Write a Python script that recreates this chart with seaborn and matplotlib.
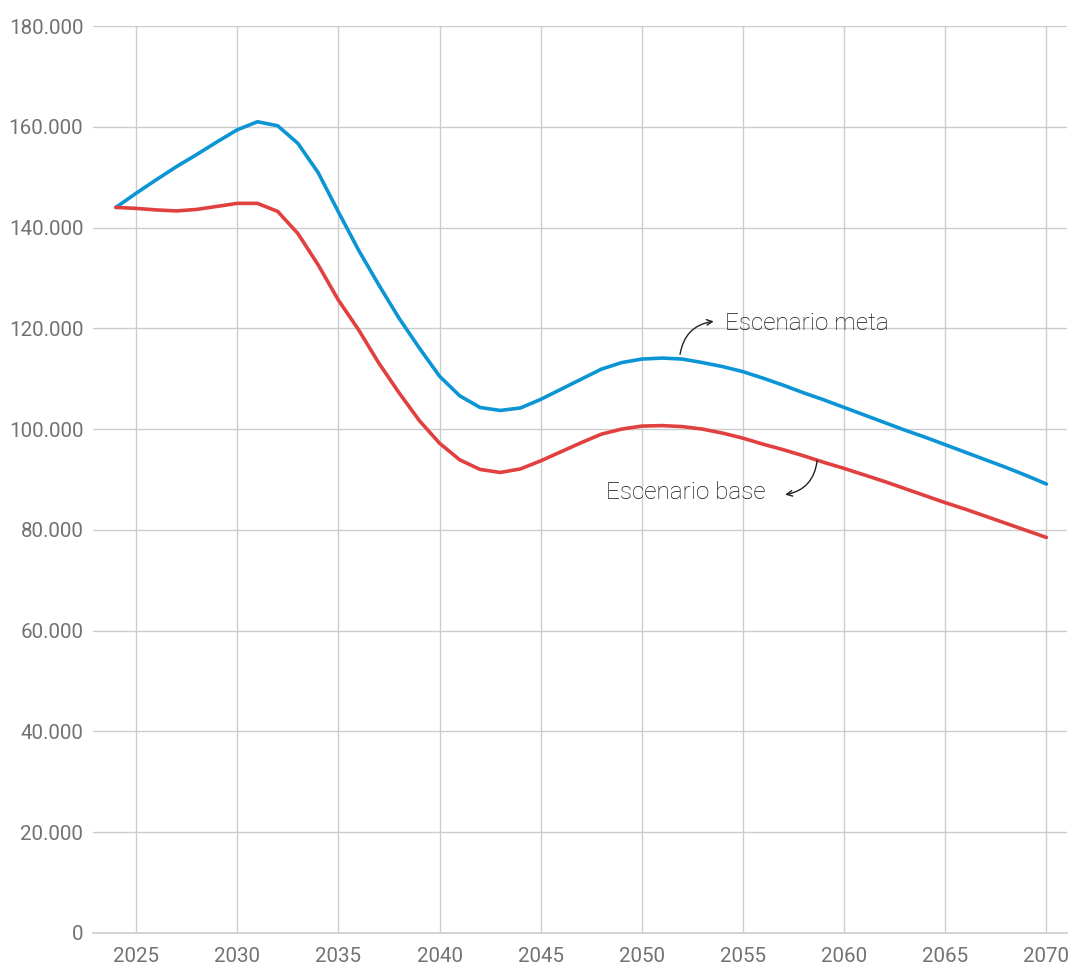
import pandas as pd
import matplotlib
matplotlib.use("Agg")
import matplotlib.pyplot as plt
import matplotlib.ticker as mticker
import seaborn as sns

# data (thousands)
years = list(range(2024, 2071))
meta = [144.0, 146.8, 149.5, 152.1, 154.5, 157.0, 159.4, 161.0, 160.2, 156.7,
        150.9, 143.1, 135.5, 128.6, 122.0, 116.1, 110.5, 106.6, 104.3, 103.7,
        104.2, 105.9, 107.9, 109.9, 111.9, 113.2, 113.9, 114.1, 113.9, 113.2,
        112.4, 111.4, 110.1, 108.7, 107.2, 105.8, 104.3, 102.8, 101.3, 99.8,
        98.4, 96.9, 95.4, 93.9, 92.4, 90.8, 89.1]
base = [144.0, 143.8, 143.5, 143.3, 143.6, 144.2, 144.8, 144.8, 143.2, 138.8,
        132.6, 125.6, 119.7, 113.1, 107.2, 101.7, 97.2, 93.9, 92.0, 91.4,
        92.1, 93.7, 95.5, 97.3, 99.0, 100.0, 100.6, 100.7, 100.5, 100.0,
        99.2, 98.2, 97.0, 95.9, 94.7, 93.4, 92.2, 90.9, 89.6, 88.2,
        86.8, 85.4, 84.1, 82.7, 81.3, 79.9, 78.5]
series_names = ["Escenario meta", "Escenario base"]
colors = {"Escenario meta": "#0b95d4", "Escenario base": "#e0403f"}

df = pd.DataFrame({
    "year": years * 2,
    "value": [v * 1000 for v in meta] + [v * 1000 for v in base],
    "serie": [series_names[0]] * len(years) + [series_names[1]] * len(years),
})

sns.set_style("white")
plt.rcParams["font.family"] = ["Roboto", "DejaVu Sans"]
plt.rcParams["font.weight"] = "light"

fig, ax = plt.subplots(figsize=(10.68, 9.67), dpi=100)
fig.subplots_adjust(left=93 / 1068, right=0.9995, top=1 - 26 / 967, bottom=1 - 933 / 967)

sns.lineplot(data=df, x="year", y="value", hue="serie", palette=colors,
             linewidth=2.6, legend=False, ax=ax)

ax.set_xlim(2022.87, 2071.04)
ax.set_ylim(0, 180000)
ax.yaxis.set_major_locator(mticker.MultipleLocator(20000))
ax.yaxis.set_major_formatter(mticker.FuncFormatter(lambda v, p: f"{v:,.0f}".replace(",", ".")))
ax.xaxis.set_major_locator(mticker.MultipleLocator(5))
ax.xaxis.set_minor_locator(mticker.MultipleLocator(1))
ax.set_xlabel("")
ax.set_ylabel("")

ax.grid(True, which="major", color="#cccccc", linewidth=1)
ax.set_axisbelow(True)
for side in ["left", "right", "top"]:
    ax.spines[side].set_visible(False)
ax.spines["bottom"].set_color("#cccccc")
ax.spines["bottom"].set_linewidth(1.2)

ax.tick_params(axis="y", length=0, pad=7, labelsize=14.8, labelcolor="#727272")
ax.tick_params(axis="x", which="both", direction="out", length=8, width=1,
               color="#cccccc", labelsize=14.8, labelcolor="#727272", pad=2)
for lab in ax.get_xticklabels() + ax.get_yticklabels():
    lab.set_fontweight("normal")

# annotations
ax.annotate("", xy=(2053.69, 121450), xytext=(2051.87, 114300),
            arrowprops=dict(arrowstyle="->", color="#222222", lw=1,
                            connectionstyle="arc3,rad=-0.4"))
ax.text(2054.09, 120900, "Escenario meta", fontsize=17.5, color="#111111",
        ha="left", va="center")
ax.annotate("", xy=(2056.95, 86900), xytext=(2058.68, 94300),
            arrowprops=dict(arrowstyle="->", color="#222222", lw=1,
                            connectionstyle="arc3,rad=-0.4"))
ax.text(2056.11, 87500, "Escenario base", fontsize=17.5, color="#111111",
        ha="right", va="center")

fig.savefig("out.png", dpi=100)
